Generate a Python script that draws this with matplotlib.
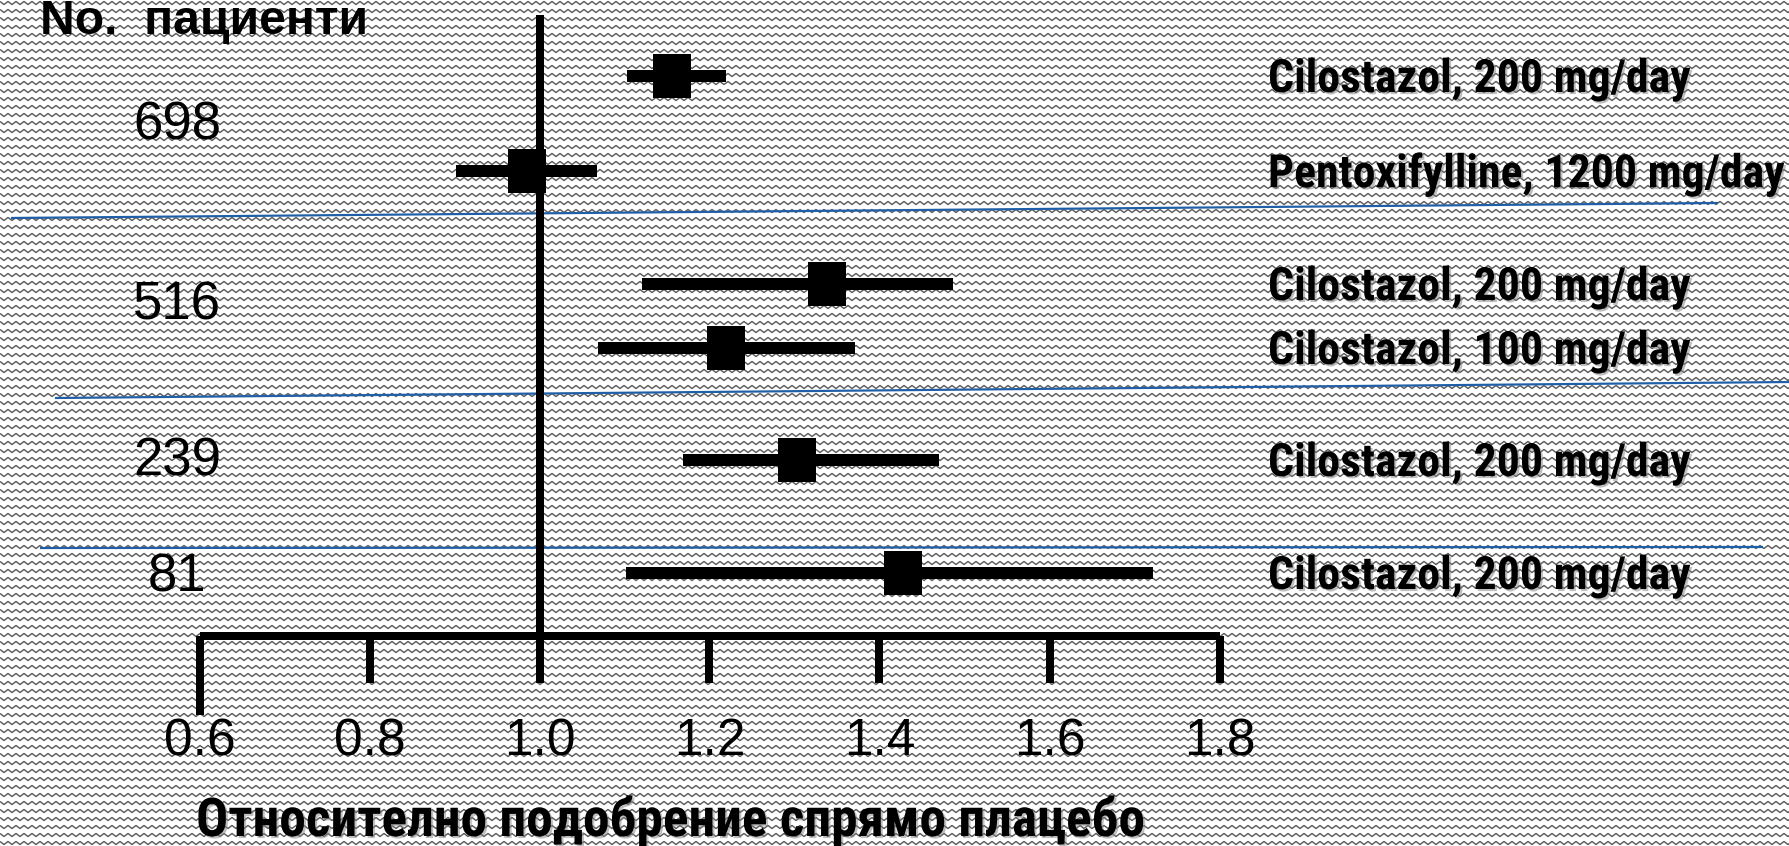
import numpy as np
import matplotlib
matplotlib.use('Agg')
import matplotlib.pyplot as plt
import matplotlib.patheffects as pe
from matplotlib.collections import LineCollection

# ---- data ----
patients = ['698', '516', '239', '81']
treatments = ['Cilostazol, 200 mg/day', 'Pentoxifylline, 1200 mg/day',
              'Cilostazol, 200 mg/day', 'Cilostazol, 100 mg/day',
              'Cilostazol, 200 mg/day', 'Cilostazol, 200 mg/day']
estimate = [1.156, 0.985, 1.338, 1.220, 1.303, 1.428]
ci_low = [1.103, 0.902, 1.120, 1.069, 1.169, 1.102]
ci_high = [1.220, 1.068, 1.487, 1.371, 1.470, 1.722]
xticks = [0.6, 0.8, 1.0, 1.2, 1.4, 1.6, 1.8]
xticklabels = ['0.6', '0.8', '1.0', '1.2', '1.4', '1.6', '1.8']
xlabel = 'Относително подобрение спрямо плацебо'
header = 'No.  пациенти'

# ---- layout (pixels, figure is 1789 x 846 at dpi 100) ----
W, H = 1789, 846
PT = 72 / 100          # points per pixel
x0_px, px_per_unit = 199.5, 850
row_y = [76, 171, 284, 348, 460, 573]
patient_y = [126, 306, 461, 577]
axis_y = 636
separators = [((11, 218), (1718, 203)), ((55, 398), (1789, 382)), ((40, 548), (1763, 547))]
narrow = 'Roboto Condensed'
shadow = [pe.SimplePatchShadow(offset=(1.5, -1.5), shadow_rgbFace='#808080', alpha=0.5), pe.Normal()]

fig = plt.figure(figsize=(W / 100, H / 100), dpi=100)
fig.patch.set_facecolor('white')

# background: grey zigzag texture, in pixel coordinates
bg = fig.add_axes([0, 0, 1, 1])
bg.set_xlim(0, W)
bg.set_ylim(H, 0)
bg.axis('off')
zx = np.arange(0, W + 8, 4)
zoff = np.where((np.arange(zx.size) % 2) == 0, -1.5, 1.5)
segs = [np.column_stack([zx, r + zoff]) for r in np.arange(3, H + 8, 8)]
bg.add_collection(LineCollection(segs, colors='#585858', linewidths=1.4 * PT))
for (xa, ya), (xb, yb) in separators:
    bg.plot([xa, xb], [ya, yb], color='#1f5fa8', lw=2.2 * PT, solid_capstyle='butt')

# main axes: x in data units, y in pixel rows
ax = fig.add_axes([0, 0, 1, 1], facecolor='none')
ax.set_xlim(0.6 - x0_px / px_per_unit, 0.6 + (W - x0_px) / px_per_unit)
ax.set_ylim(H, 0)
for s in ['top', 'left', 'right']:
    ax.spines[s].set_visible(False)
ax.spines['bottom'].set_position(('data', axis_y))
ax.spines['bottom'].set_bounds(xticks[0], xticks[-1])
ax.spines['bottom'].set_linewidth(8 * PT)
ax.spines['bottom'].set_capstyle('butt')
ax.set_yticks([])
ax.set_xticks(xticks)
ax.set_xticklabels(xticklabels, fontsize=37, fontfamily='Liberation Sans')
ax.tick_params(axis='x', direction='out', length=47 * PT, width=8 * PT, pad=34 * PT)
ticks = ax.xaxis.get_major_ticks()
ticks[0].tick1line.set_markersize(79 * PT)

# reference line at 1.0
ax.plot([1.0, 1.0], [15, axis_y], color='black', lw=8 * PT, solid_capstyle='butt')

# confidence intervals and point estimates
for lo, hi, y in zip(ci_low, ci_high, row_y):
    ax.plot([lo, hi], [y, y], color='black', lw=12 * PT, solid_capstyle='butt')
box = [(-0.443, -0.5), (0.443, -0.5), (0.443, 0.5), (-0.443, 0.5), (-0.443, -0.5)]
ax.plot(estimate, row_y, ls='none', marker=box, ms=44 * PT, color='black', mew=0)

# text
bg.text(40, 34, header, fontsize=48 * PT, fontweight='bold', fontfamily='Liberation Sans',
        va='baseline', ha='left')
for p, y in zip(patients, patient_y):
    bg.text(177, y, p, fontsize=38, fontfamily='Liberation Sans', ha='center', va='center')
for t, y in zip(treatments, row_y):
    bg.text(1268, y + 3, t, fontsize=33, fontweight='bold', fontfamily=narrow,
            ha='left', va='center', path_effects=shadow)
bg.text(196, 836, xlabel, fontsize=38.5, fontweight='bold', fontfamily=narrow,
        ha='left', va='baseline', path_effects=shadow)

fig.savefig('out.png', dpi=100)
